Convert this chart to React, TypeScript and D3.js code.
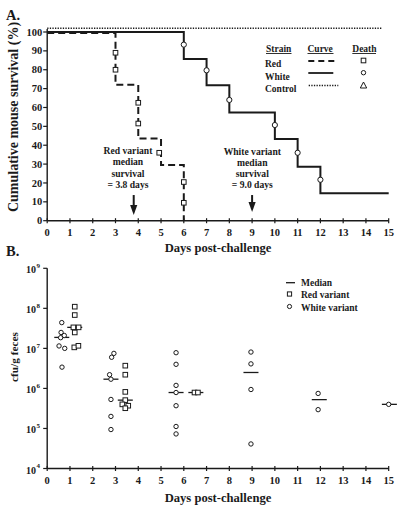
import React from "react";
import * as d3 from "d3";

// ---------- Panel A: survival ----------
const dayTicks = d3.range(0, 16);
const survTicks = d3.range(0, 101, 10);

const redTimes = [0, 3, 4, 5, 6];
const redSurv = [99.5, 72, 43.5, 29.5, 0];
const redDeathDay = [3, 3, 4, 4, 4.92, 6, 6];
const redDeathSurv = [89, 80, 62.5, 51.5, 36, 20.5, 9.5];

const whiteTimes = [0, 6, 7, 8, 10, 11, 12, 15];
const whiteSurv = [100, 85.7, 71.8, 57.4, 43.3, 28.6, 14.5, 14.5];
const whiteDeathDay = [6, 7, 8, 10, 11, 12];
const whiteDeathSurv = [93.3, 79.7, 64, 50.7, 36, 21.7];

const controlTimes = [0, 14.7];
const controlSurv = [102, 102];

const redMedianDays = 3.8;
const whiteMedianDays = 9.0;
const redNote = ["Red variant", "median", "survival", "= 3.8 days"];
const whiteNote = ["White variant", "median", "survival", "= 9.0 days"];

// ---------- Panel B: fecal cfu ----------
const cfuExponents = [4, 5, 6, 7, 8, 9];

const whiteCfuDay = [
  0.64, 0.61, 0.75, 0.59, 0.52, 0.77, 0.65,
  2.93, 2.83, 2.74, 2.8, 2.8, 2.8, 2.8,
  5.66, 5.66, 5.66, 5.66, 5.66, 5.66, 5.66,
  8.95, 8.95, 8.95, 8.95,
  11.9, 11.9,
  15.0,
];
const whiteCfu = [
  4.4e7, 2.5e7, 2.1e7, 1.85e7, 1.15e7, 1.0e7, 3.4e6,
  7.5e6, 6.0e6, 2.2e6, 1.7e6, 5.3e5, 2.0e5, 9.4e4,
  7.8e6, 4.0e6, 1.19e6, 7.9e5, 3.7e5, 1.12e5, 7.3e4,
  8.1e6, 4.1e6, 9.4e5, 4.1e4,
  7.5e5, 2.95e5,
  4.0e5,
];
const redCfuDay = [
  1.21, 1.21, 1.15, 1.38, 1.21, 1.19, 1.37,
  3.43, 3.43, 3.43, 3.43, 3.3, 3.56, 3.43,
  6.47, 6.62,
];
const redCfu = [
  1.1e8, 6.8e7, 3.35e7, 3.35e7, 2.5e7, 1.06e7, 1.16e7,
  3.7e6, 2.2e6, 8.2e5, 5.1e5, 4.0e5, 3.7e5, 3.2e5,
  7.9e5, 7.9e5,
];
const medianDay = [0.64, 2.8, 5.66, 8.95, 11.95, 15.03, 1.21, 3.43, 6.53];
const medianCfu = [1.88e7, 1.7e6, 7.9e5, 2.5e6, 5.25e5, 4.0e5, 3.35e7, 5.1e5, 7.9e5];

const FONT = "'Liberation Serif', 'Times New Roman', serif";
const INK = "#1a1a1a";

function Square({ x, y, s = 5 }: { x: number; y: number; s?: number }) {
  return (
    <rect x={x - s / 2} y={y - s / 2} width={s} height={s} fill="#fff" stroke={INK} strokeWidth={1} />
  );
}
function Circle({ x, y, r = 2.4 }: { x: number; y: number; r?: number }) {
  return <circle cx={x} cy={y} r={r} fill="#fff" stroke={INK} strokeWidth={1} />;
}
function Arrow({ x, y1, y2 }: { x: number; y1: number; y2: number }) {
  return (
    <g>
      <line x1={x} x2={x} y1={y1} y2={y2 - 8} stroke={INK} strokeWidth={2} />
      <polygon points={`${x - 3.6},${y2 - 10} ${x + 3.6},${y2 - 10} ${x},${y2}`} fill={INK} />
    </g>
  );
}

export default function App() {
  const xA = d3.scaleLinear().domain([0, 15]).range([47.2, 388.7]);
  const yA = d3.scaleLinear().domain([0, 100]).range([220.7, 32]);
  const xB = d3.scaleLinear().domain([0, 15]).range([47.2, 388.7]);
  const yB = d3.scaleLog().domain([1e4, 1e9]).range([468.5, 268.3]);

  const stepLine = d3
    .line<[number, number]>()
    .x((d) => xA(d[0]))
    .y((d) => yA(d[1]))
    .curve(d3.curveStepAfter);
  const plainLine = d3
    .line<[number, number]>()
    .x((d) => xA(d[0]))
    .y((d) => yA(d[1]));

  const redPath = stepLine(redTimes.map((t, i) => [t, redSurv[i]]));
  const whitePath = stepLine(whiteTimes.map((t, i) => [t, whiteSurv[i]]));
  const controlPath = plainLine(controlTimes.map((t, i) => [t, controlSurv[i]]));

  const axisA = yA(0);
  const axisB = yB(1e4);

  return (
    <svg
      width={407}
      height={507}
      style={{ position: "absolute", left: 0, top: 0, background: "#fff" }}
      fontFamily={FONT}
      fontWeight="bold"
      fill={INK}
    >
      <rect width={407} height={507} fill="#fff" />
      {/* ===== Panel A ===== */}
      <text x={6} y={20} fontSize={14.5}>A.</text>

      {/* axes */}
      <line x1={xA(0)} x2={xA(0)} y1={29} y2={axisA} stroke={INK} strokeWidth={1.4} />
      <line x1={xA(0)} x2={xA(15)} y1={axisA} y2={axisA} stroke={INK} strokeWidth={1.4} />
      {survTicks.map((t) => (
        <g key={`ya${t}`}>
          <line x1={xA(0) - 4} x2={xA(0)} y1={yA(t)} y2={yA(t)} stroke={INK} strokeWidth={1.2} />
          <text x={xA(0) - 5} y={yA(t) + 3.6} fontSize={10.5} textAnchor="end">{t}</text>
        </g>
      ))}
      {dayTicks.map((t) => (
        <g key={`xa${t}`}>
          <line x1={xA(t)} x2={xA(t)} y1={axisA - 2.5} y2={axisA + 2.5} stroke={INK} strokeWidth={1.2} />
          <text x={xA(t)} y={axisA + 15} fontSize={10.5} textAnchor="middle">{t}</text>
        </g>
      ))}
      <text x={218} y={251.5} fontSize={12.6} textAnchor="middle">Days post-challenge</text>
      <text transform="translate(17.5,117) rotate(-90)" fontSize={14} textAnchor="middle">
        Cumulative mouse survival (%)
      </text>

      {/* curves */}
      <path d={controlPath || ""} fill="none" stroke={INK} strokeWidth={1.6} strokeDasharray="1.3,1.3" />
      <path d={whitePath || ""} fill="none" stroke={INK} strokeWidth={2} />
      <path d={redPath || ""} fill="none" stroke={INK} strokeWidth={2} strokeDasharray="7,4" />
      {redDeathDay.map((d, i) => (
        <Square key={`rd${i}`} x={xA(d)} y={yA(redDeathSurv[i])} s={4.6} />
      ))}
      {whiteDeathDay.map((d, i) => (
        <Circle key={`wd${i}`} x={xA(d)} y={yA(whiteDeathSurv[i])} r={2.6} />
      ))}

      {/* annotations */}
      {redNote.map((s, i) => (
        <text key={`rn${i}`} x={128} y={154 + i * 11.3} fontSize={9.6} textAnchor="middle">{s}</text>
      ))}
      {whiteNote.map((s, i) => (
        <text key={`wn${i}`} x={252.3} y={154.5 + i * 11.3} fontSize={9.6} textAnchor="middle">{s}</text>
      ))}
      <Arrow x={xA(redMedianDays)} y1={yA(13.6)} y2={yA(3)} />
      <Arrow x={xA(whiteMedianDays)} y1={yA(13.6)} y2={yA(4.6)} />

      {/* legend A */}
      <g fontSize={9.5}>
        <text x={266} y={51.5}>Strain</text>
        <line x1={266} x2={291.5} y1={53.5} y2={53.5} stroke={INK} strokeWidth={0.9} />
        <text x={307.5} y={51.5}>Curve</text>
        <line x1={307.5} x2={333.5} y1={53.5} y2={53.5} stroke={INK} strokeWidth={0.9} />
        <text x={352.3} y={51.5}>Death</text>
        <line x1={352.3} x2={376} y1={53.5} y2={53.5} stroke={INK} strokeWidth={0.9} />
        <text x={265} y={66.5}>Red</text>
        <text x={265} y={80}>White</text>
        <text x={265} y={91.8}>Control</text>
        <line x1={308.3} x2={336} y1={61} y2={61} stroke={INK} strokeWidth={1.8} strokeDasharray="6,4" />
        <line x1={308.3} x2={333.3} y1={73} y2={73} stroke={INK} strokeWidth={1.8} />
        <line x1={308.7} x2={338.3} y1={85.5} y2={85.5} stroke={INK} strokeWidth={1.4} strokeDasharray="1.3,1.3" />
        <Square x={363.5} y={60.5} s={4.6} />
        <Circle x={363.5} y={72.7} r={2.2} />
        <polygon points={`${363.5 - 3.2},88 ${363.5 + 3.2},88 ${363.5},82`} fill="#fff" stroke={INK} strokeWidth={1} />
      </g>

      {/* ===== Panel B ===== */}
      <text x={6} y={255.5} fontSize={14.5}>B.</text>
      <line x1={xB(0)} x2={xB(0)} y1={yB(1e9)} y2={axisB} stroke={INK} strokeWidth={1.4} />
      <line x1={xB(0)} x2={xB(15)} y1={axisB} y2={axisB} stroke={INK} strokeWidth={1.4} />
      {cfuExponents.map((e) => (
        <g key={`yb${e}`}>
          <line x1={xB(0) - 4} x2={xB(0)} y1={yB(10 ** e)} y2={yB(10 ** e)} stroke={INK} strokeWidth={1.2} />
          <text x={36} y={yB(10 ** e) + 5} fontSize={10} textAnchor="end">10</text>
          <text x={36.4} y={yB(10 ** e) - 0.5} fontSize={7}>{e}</text>
        </g>
      ))}
      {dayTicks.map((t) => (
        <g key={`xb${t}`}>
          <line x1={xB(t)} x2={xB(t)} y1={axisB - 2.5} y2={axisB + 2.5} stroke={INK} strokeWidth={1.2} />
          <text x={xB(t)} y={axisB + 15} fontSize={10.5} textAnchor="middle">{t}</text>
        </g>
      ))}
      <text x={218} y={501.5} fontSize={12.6} textAnchor="middle">Days post-challenge</text>
      <text transform="translate(17.5,357) rotate(-90)" fontSize={11.3} textAnchor="middle">
        cfu/g  feces
      </text>

      {medianDay.map((d, i) => (
        <line
          key={`md${i}`}
          x1={xB(d) - 7.5}
          x2={xB(d) + 7.5}
          y1={yB(medianCfu[i])}
          y2={yB(medianCfu[i])}
          stroke={INK}
          strokeWidth={1.3}
        />
      ))}
      {whiteCfuDay.map((d, i) => (
        <Circle key={`wc${i}`} x={xB(d)} y={yB(whiteCfu[i])} r={2.2} />
      ))}
      {redCfuDay.map((d, i) => (
        <Square key={`rc${i}`} x={xB(d)} y={yB(redCfu[i])} s={4.6} />
      ))}

      {/* legend B */}
      <g fontSize={9.5}>
        <line x1={286} x2={295} y1={282.7} y2={282.7} stroke={INK} strokeWidth={1.3} />
        <text x={301} y={286.3}>Median</text>
        <Square x={289.5} y={294} s={4.2} />
        <text x={301} y={298}>Red variant</text>
        <Circle x={289.5} y={306.5} r={2.1} />
        <text x={301} y={310.5}>White variant</text>
      </g>
    </svg>
  );
}
